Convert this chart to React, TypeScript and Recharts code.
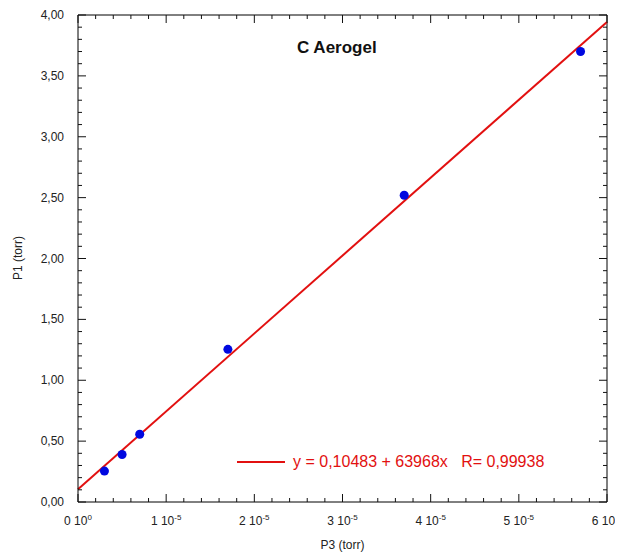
import { ScatterChart, Scatter, XAxis, YAxis, ZAxis, ReferenceLine } from 'recharts';

// measured points (P3 in torr, P1 in torr)
const p3Values = [0.3e-5, 0.5e-5, 0.7e-5, 1.7e-5, 3.7e-5, 5.7e-5];
const p1Values = [0.254, 0.39, 0.557, 1.254, 2.52, 3.7];

// fitted line end points
const fitP3 = [0, 6e-5];
const fitP1 = [0.10483, 3.94291];

const xMinorTicks = Array.from({ length: 31 }, (_, i) => i * 2e-6);
const yMinorTicks = Array.from({ length: 41 }, (_, i) => i * 0.1);

const points = p3Values.map((x, i) => ({ x, y: p1Values[i] }));

const FONT = '"Liberation Sans", Arial, sans-serif';
const BLUE = '#0008e0';
const RED = '#e21010';
const MAJOR = 8;
const MINOR = 4;

const W = 623;
const H = 557;
const MARGIN = { top: 15, right: 16, bottom: 3, left: 0 };
const Y_AXIS_W = 78;
const X_AXIS_H = 52;
const PLOT_W = W - MARGIN.left - MARGIN.right - Y_AXIS_W;
const PLOT_H = H - MARGIN.top - MARGIN.bottom - X_AXIS_H;

const isMajorX = (v: number) => Math.round(v / 2e-6) % 5 === 0;
const isMajorY = (v: number) => Math.round(v / 0.1) % 5 === 0;

const bottomTick = (props: any) => {
  const { x, y, payload } = props;
  const v = payload.value as number;
  const len = isMajorX(v) ? MAJOR : MINOR;
  const k = Math.round(v / 1e-5);
  const top = y - PLOT_H;
  return (
    <g>
      <path d={`M${x},${y}L${x},${y - len}M${x},${top}L${x},${top + len}`} stroke="#111" strokeWidth={1} />
      {isMajorX(v) && (
        <text x={x} y={y + 23} textAnchor="middle" fontFamily={FONT} fontSize={12} fill="#222">
          {`${k} 10`}
          <tspan dy={-5} fontSize={8}>{k === 0 ? '0' : '-5'}</tspan>
        </text>
      )}
    </g>
  );
};

const leftTick = (props: any) => {
  const { x, y, payload } = props;
  const v = payload.value as number;
  const len = isMajorY(v) ? MAJOR : MINOR;
  const right = x + PLOT_W;
  return (
    <g>
      <path d={`M${x},${y}L${x + len},${y}M${right},${y}L${right - len},${y}`} stroke="#111" strokeWidth={1} />
      {isMajorY(v) && (
        <text x={x - 14} y={y + 4} textAnchor="end" fontFamily={FONT} fontSize={12} fill="#222">
          {v.toFixed(2).replace('.', ',')}
        </text>
      )}
    </g>
  );
};

export default function App() {
  return (
    <div style={{ position: 'relative', width: W, height: H, margin: '-8px 0 0 -8px', background: '#fff' }}>
      <ScatterChart width={W} height={H} margin={MARGIN}>
        <XAxis
          type="number"
          dataKey="x"
          domain={[0, 6e-5]}
          ticks={xMinorTicks}
          interval={0}
          tick={bottomTick}
          tickLine={false}
          tickSize={0}
          tickMargin={0}
          axisLine={{ stroke: '#000' }}
          height={X_AXIS_H}
        />
        <YAxis
          type="number"
          dataKey="y"
          domain={[0, 4]}
          ticks={yMinorTicks}
          interval={0}
          tick={leftTick}
          tickLine={false}
          tickSize={0}
          tickMargin={0}
          axisLine={{ stroke: '#000' }}
          width={Y_AXIS_W}
        />
        <ZAxis range={[133, 133]} />
        <ReferenceLine y={4} stroke="#000" />
        <ReferenceLine x={6e-5} stroke="#000" />
        <ReferenceLine
          segment={[
            { x: fitP3[0], y: fitP1[0] },
            { x: fitP3[1], y: fitP1[1] },
          ]}
          stroke={RED}
          strokeWidth={2}
        />
        <Scatter data={points} fill={BLUE} isAnimationActive={false} />
      </ScatterChart>
      <div style={{ position: 'absolute', left: 0, width: W - 16 + 78, top: 538, textAlign: 'center', fontFamily: FONT, fontSize: 12, color: '#222' }}>
        P3 (torr)
      </div>
      <div
        style={{
          position: 'absolute',
          left: 18,
          top: 258,
          transform: 'translate(-50%, -50%) rotate(-90deg)',
          whiteSpace: 'nowrap',
          fontFamily: FONT,
          fontSize: 12,
          color: '#222',
        }}
      >
        P1 (torr)
      </div>
      <div
        style={{ position: 'absolute', left: 297, top: 38, fontFamily: FONT, fontWeight: 'bold', fontSize: 17, color: '#111' }}
      >
        C Aerogel
      </div>
      <div style={{ position: 'absolute', left: 237, top: 453, display: 'flex', alignItems: 'center', fontFamily: FONT, fontSize: 16, color: RED }}>
        <span style={{ display: 'inline-block', width: 48, height: 2, background: RED, marginRight: 8 }} />
        <span style={{ whiteSpace: 'pre' }}>{'y = 0,10483 + 63968x   R= 0,99938'}</span>
      </div>
    </div>
  );
}
